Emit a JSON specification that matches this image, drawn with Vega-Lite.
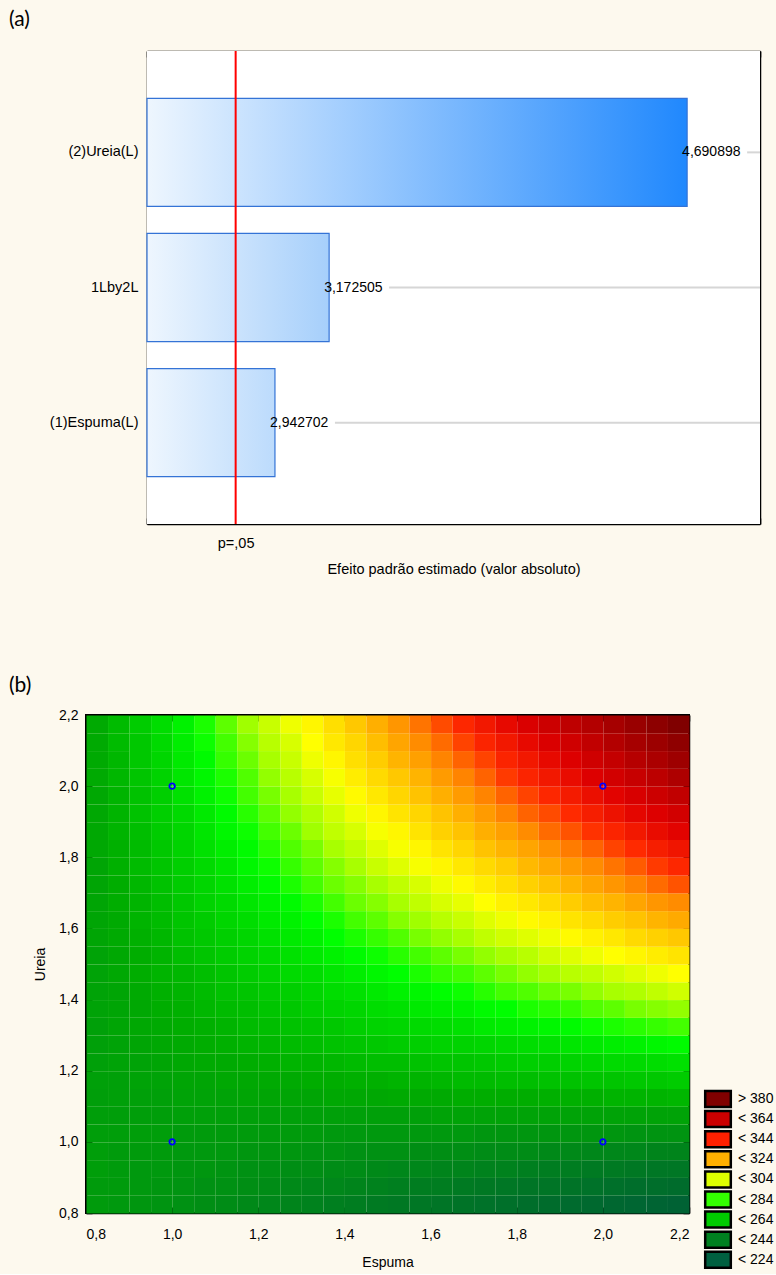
{
"$schema": "https://vega.github.io/schema/vega-lite/v6.json",
"background": "#fdf9ee",
"padding": {"left": 8, "top": 9, "right": 6, "bottom": 0},
"spacing": 98,
"resolve": {"legend": {"fill": "independent"}},
"config": {
 "font": "Liberation Sans",
 "locale": {"number": {"decimal": ",", "thousands": ".", "grouping": [3], "currency": ["", ""]}},
 "view": {"stroke": "#000000", "strokeWidth": 1.5},
 "axis": {"labelFont": "Liberation Sans", "labelFontSize": 14, "labelColor": "#000", "titleFont": "Liberation Sans", "titleFontSize": 14, "titleFontWeight": "normal", "titleColor": "#000", "tickColor": "#000", "tickWidth": 1.5, "tickSize": -6, "domainColor": "#000", "domainWidth": 1.5, "grid": false, "zindex": 1, "labelOverlap": false},
 "title": {"font": "Lato", "fontSize": 21, "fontWeight": "normal", "color": "#000", "anchor": "start", "frame": "group"}
},
"vconcat": [
{
 "width": 674, "height": 473,
 "view": {"stroke": null},
 "title": {"text": "(a)", "dx": -77, "offset": 20},
 "data": {"values": [
  {"f": "(2)Ureia(L)", "t": 4.690898},
  {"f": "1Lby2L", "t": 3.172505},
  {"f": "(1)Espuma(L)", "t": 2.942702}
 ]},
 "resolve": {"axis": {"x": "independent", "y": "independent"}},
 "layer": [
  {
   "mark": {"type": "rect", "fill": "#ffffff"},
   "encoding": {
    "x": {"datum": 2.4, "type": "quantitative", "scale": {"domain": [2.4, 5.0], "range": [61, 674], "nice": false, "zero": false}, "axis": null},
    "x2": {"datum": 5.0}
   }
  },
  {
   "transform": [{"filter": "datum.f == '(2)Ureia(L)'"}],
   "mark": {"type": "bar", "stroke": "#3473d6", "strokeWidth": 1.2, "fill": {"gradient": "linear", "x1": 0, "y1": 0, "x2": 1, "y2": 0, "stops": [{"offset": 0, "color": "#eef6fe"}, {"offset": 1, "color": "#2088fd"}]}},
   "encoding": {
    "x": {"field": "t", "type": "quantitative",
     "axis": {"orient": "bottom", "values": [2.4,2.5,2.6,2.7,2.8,2.9,3.0,3.1,3.2,3.3,3.4,3.5,3.6,3.7,3.8,3.9,4.0,4.1,4.2,4.3,4.4,4.5,4.6,4.7,4.8,4.9,5.0,2.776],
      "labelExpr": "datum.value == 2.776 ? 'p=,05' : ''", "labelPadding": 18, "labelFontSize": 14.5,
      "tickColor": {"condition": {"test": "datum.value == 2.776", "value": "#ff0000"}, "value": "#000000"},
      "title": "Efeito padrão estimado (valor absoluto)", "titlePadding": 13, "titleFontSize": 14.5}},
    "x2": {"datum": 2.4},
    "y": {"field": "f", "type": "nominal", "scale": {"domain": ["(2)Ureia(L)", "1Lby2L", "(1)Espuma(L)"], "paddingInner": 0.2, "paddingOuter": 0.35},
     "axis": {"orient": "left", "offset": -61, "title": null, "labelPadding": 15, "labelFontSize": 14.5}}
   }
  },
  {
   "transform": [{"filter": "datum.f == '1Lby2L'"}],
   "mark": {"type": "bar", "stroke": "#3473d6", "strokeWidth": 1.2, "fill": {"gradient": "linear", "x1": 0, "y1": 0, "x2": 1, "y2": 0, "stops": [{"offset": 0, "color": "#eef6fe"}, {"offset": 1, "color": "#a6cffb"}]}},
   "encoding": {
    "x": {"field": "t", "type": "quantitative", "axis": null},
    "x2": {"datum": 2.4},
    "y": {"field": "f", "type": "nominal", "axis": null}
   }
  },
  {
   "transform": [{"filter": "datum.f == '(1)Espuma(L)'"}],
   "mark": {"type": "bar", "stroke": "#3473d6", "strokeWidth": 1.2, "fill": {"gradient": "linear", "x1": 0, "y1": 0, "x2": 1, "y2": 0, "stops": [{"offset": 0, "color": "#eef6fe"}, {"offset": 1, "color": "#bcdbfc"}]}},
   "encoding": {
    "x": {"field": "t", "type": "quantitative", "axis": null},
    "x2": {"datum": 2.4},
    "y": {"field": "f", "type": "nominal", "axis": null}
   }
  },
  {
   "mark": {"type": "rule", "color": "#d6d6d6", "strokeWidth": 2, "xOffset": 60},
   "encoding": {
    "x": {"field": "t", "type": "quantitative", "axis": null},
    "x2": {"datum": 5.0},
    "y": {"field": "f", "type": "nominal", "axis": {"orient": "right", "labels": false, "title": null}}
   }
  },
  {
   "mark": {"type": "text", "align": "left", "baseline": "middle", "dx": -5, "fontSize": 14, "font": "Liberation Sans", "color": "#000"},
   "encoding": {
    "x": {"field": "t", "type": "quantitative", "axis": null},
    "y": {"field": "f", "type": "nominal", "axis": null},
    "text": {"field": "t", "type": "quantitative", "format": ".6f"}
   }
  },
  {
   "data": {"values": [{"p": 2.776}]},
   "mark": {"type": "rule", "color": "#ff0000", "strokeWidth": 2},
   "encoding": {
    "x": {"field": "p", "type": "quantitative",
     "axis": {"orient": "top", "values": [2.4,2.5,2.6,2.7,2.8,2.9,3.0,3.1,3.2,3.3,3.4,3.5,3.6,3.7,3.8,3.9,4.0,4.1,4.2,4.3,4.4,4.5,4.6,4.7,4.8,4.9,5.0], "labels": false, "title": null}}
   }
  }
 ]
},
{
 "width": 603, "height": 498,
 "view": {"stroke": "#000", "strokeWidth": 2},
 "title": {"text": "(b)", "dx": -77, "offset": 12},
 "resolve": {"axis": {"x": "independent", "y": "independent"}},
 "layer": [
  {
   "data": {"values": [
{"e":0.8,"u":0.8,"z":247},{"e":0.85,"u":0.8,"z":246},{"e":0.9,"u":0.8,"z":245},{"e":0.95,"u":0.8,"z":244},{"e":1,"u":0.8,"z":243},{"e":1.05,"u":0.8,"z":242},{"e":1.1,"u":0.8,"z":241},{"e":1.15,"u":0.8,"z":240},{"e":1.2,"u":0.8,"z":239},{"e":1.25,"u":0.8,"z":238},{"e":1.3,"u":0.8,"z":237},{"e":1.35,"u":0.8,"z":236},{"e":1.4,"u":0.8,"z":235},{"e":1.45,"u":0.8,"z":234},{"e":1.5,"u":0.8,"z":233},{"e":1.55,"u":0.8,"z":232},{"e":1.6,"u":0.8,"z":231},{"e":1.65,"u":0.8,"z":230},{"e":1.7,"u":0.8,"z":229},{"e":1.75,"u":0.8,"z":228},{"e":1.8,"u":0.8,"z":227},{"e":1.85,"u":0.8,"z":226},{"e":1.9,"u":0.8,"z":225},{"e":1.95,"u":0.8,"z":224},{"e":2,"u":0.8,"z":223},{"e":2.05,"u":0.8,"z":222},{"e":2.1,"u":0.8,"z":221},{"e":2.15,"u":0.8,"z":220},
{"e":0.8,"u":0.85,"z":247},{"e":0.85,"u":0.85,"z":247},{"e":0.9,"u":0.85,"z":246},{"e":0.95,"u":0.85,"z":245},{"e":1,"u":0.85,"z":244},{"e":1.05,"u":0.85,"z":243},{"e":1.1,"u":0.85,"z":243},{"e":1.15,"u":0.85,"z":242},{"e":1.2,"u":0.85,"z":241},{"e":1.25,"u":0.85,"z":240},{"e":1.3,"u":0.85,"z":239},{"e":1.35,"u":0.85,"z":239},{"e":1.4,"u":0.85,"z":238},{"e":1.45,"u":0.85,"z":237},{"e":1.5,"u":0.85,"z":236},{"e":1.55,"u":0.85,"z":235},{"e":1.6,"u":0.85,"z":235},{"e":1.65,"u":0.85,"z":234},{"e":1.7,"u":0.85,"z":233},{"e":1.75,"u":0.85,"z":232},{"e":1.8,"u":0.85,"z":231},{"e":1.85,"u":0.85,"z":231},{"e":1.9,"u":0.85,"z":230},{"e":1.95,"u":0.85,"z":229},{"e":2,"u":0.85,"z":228},{"e":2.05,"u":0.85,"z":227},{"e":2.1,"u":0.85,"z":227},{"e":2.15,"u":0.85,"z":226},
{"e":0.8,"u":0.9,"z":248},{"e":0.85,"u":0.9,"z":247},{"e":0.9,"u":0.9,"z":246},{"e":0.95,"u":0.9,"z":246},{"e":1,"u":0.9,"z":245},{"e":1.05,"u":0.9,"z":245},{"e":1.1,"u":0.9,"z":244},{"e":1.15,"u":0.9,"z":243},{"e":1.2,"u":0.9,"z":243},{"e":1.25,"u":0.9,"z":242},{"e":1.3,"u":0.9,"z":242},{"e":1.35,"u":0.9,"z":241},{"e":1.4,"u":0.9,"z":241},{"e":1.45,"u":0.9,"z":240},{"e":1.5,"u":0.9,"z":239},{"e":1.55,"u":0.9,"z":239},{"e":1.6,"u":0.9,"z":238},{"e":1.65,"u":0.9,"z":238},{"e":1.7,"u":0.9,"z":237},{"e":1.75,"u":0.9,"z":237},{"e":1.8,"u":0.9,"z":236},{"e":1.85,"u":0.9,"z":235},{"e":1.9,"u":0.9,"z":235},{"e":1.95,"u":0.9,"z":234},{"e":2,"u":0.9,"z":234},{"e":2.05,"u":0.9,"z":233},{"e":2.1,"u":0.9,"z":232},{"e":2.15,"u":0.9,"z":232},
{"e":0.8,"u":0.95,"z":248},{"e":0.85,"u":0.95,"z":247},{"e":0.9,"u":0.95,"z":247},{"e":0.95,"u":0.95,"z":247},{"e":1,"u":0.95,"z":246},{"e":1.05,"u":0.95,"z":246},{"e":1.1,"u":0.95,"z":246},{"e":1.15,"u":0.95,"z":245},{"e":1.2,"u":0.95,"z":245},{"e":1.25,"u":0.95,"z":245},{"e":1.3,"u":0.95,"z":244},{"e":1.35,"u":0.95,"z":244},{"e":1.4,"u":0.95,"z":243},{"e":1.45,"u":0.95,"z":243},{"e":1.5,"u":0.95,"z":243},{"e":1.55,"u":0.95,"z":242},{"e":1.6,"u":0.95,"z":242},{"e":1.65,"u":0.95,"z":242},{"e":1.7,"u":0.95,"z":241},{"e":1.75,"u":0.95,"z":241},{"e":1.8,"u":0.95,"z":241},{"e":1.85,"u":0.95,"z":240},{"e":1.9,"u":0.95,"z":240},{"e":1.95,"u":0.95,"z":239},{"e":2,"u":0.95,"z":239},{"e":2.05,"u":0.95,"z":239},{"e":2.1,"u":0.95,"z":238},{"e":2.15,"u":0.95,"z":238},
{"e":0.8,"u":1,"z":248},{"e":0.85,"u":1,"z":248},{"e":0.9,"u":1,"z":248},{"e":0.95,"u":1,"z":248},{"e":1,"u":1,"z":247},{"e":1.05,"u":1,"z":247},{"e":1.1,"u":1,"z":247},{"e":1.15,"u":1,"z":247},{"e":1.2,"u":1,"z":247},{"e":1.25,"u":1,"z":247},{"e":1.3,"u":1,"z":247},{"e":1.35,"u":1,"z":246},{"e":1.4,"u":1,"z":246},{"e":1.45,"u":1,"z":246},{"e":1.5,"u":1,"z":246},{"e":1.55,"u":1,"z":246},{"e":1.6,"u":1,"z":246},{"e":1.65,"u":1,"z":246},{"e":1.7,"u":1,"z":245},{"e":1.75,"u":1,"z":245},{"e":1.8,"u":1,"z":245},{"e":1.85,"u":1,"z":245},{"e":1.9,"u":1,"z":245},{"e":1.95,"u":1,"z":245},{"e":2,"u":1,"z":245},{"e":2.05,"u":1,"z":244},{"e":2.1,"u":1,"z":244},{"e":2.15,"u":1,"z":244},
{"e":0.8,"u":1.05,"z":248},{"e":0.85,"u":1.05,"z":248},{"e":0.9,"u":1.05,"z":248},{"e":0.95,"u":1.05,"z":248},{"e":1,"u":1.05,"z":249},{"e":1.05,"u":1.05,"z":249},{"e":1.1,"u":1.05,"z":249},{"e":1.15,"u":1.05,"z":249},{"e":1.2,"u":1.05,"z":249},{"e":1.25,"u":1.05,"z":249},{"e":1.3,"u":1.05,"z":249},{"e":1.35,"u":1.05,"z":249},{"e":1.4,"u":1.05,"z":249},{"e":1.45,"u":1.05,"z":249},{"e":1.5,"u":1.05,"z":249},{"e":1.55,"u":1.05,"z":249},{"e":1.6,"u":1.05,"z":250},{"e":1.65,"u":1.05,"z":250},{"e":1.7,"u":1.05,"z":250},{"e":1.75,"u":1.05,"z":250},{"e":1.8,"u":1.05,"z":250},{"e":1.85,"u":1.05,"z":250},{"e":1.9,"u":1.05,"z":250},{"e":1.95,"u":1.05,"z":250},{"e":2,"u":1.05,"z":250},{"e":2.05,"u":1.05,"z":250},{"e":2.1,"u":1.05,"z":250},{"e":2.15,"u":1.05,"z":250},
{"e":0.8,"u":1.1,"z":248},{"e":0.85,"u":1.1,"z":249},{"e":0.9,"u":1.1,"z":249},{"e":0.95,"u":1.1,"z":249},{"e":1,"u":1.1,"z":250},{"e":1.05,"u":1.1,"z":250},{"e":1.1,"u":1.1,"z":250},{"e":1.15,"u":1.1,"z":251},{"e":1.2,"u":1.1,"z":251},{"e":1.25,"u":1.1,"z":251},{"e":1.3,"u":1.1,"z":251},{"e":1.35,"u":1.1,"z":252},{"e":1.4,"u":1.1,"z":252},{"e":1.45,"u":1.1,"z":252},{"e":1.5,"u":1.1,"z":253},{"e":1.55,"u":1.1,"z":253},{"e":1.6,"u":1.1,"z":253},{"e":1.65,"u":1.1,"z":254},{"e":1.7,"u":1.1,"z":254},{"e":1.75,"u":1.1,"z":254},{"e":1.8,"u":1.1,"z":254},{"e":1.85,"u":1.1,"z":255},{"e":1.9,"u":1.1,"z":255},{"e":1.95,"u":1.1,"z":255},{"e":2,"u":1.1,"z":256},{"e":2.05,"u":1.1,"z":256},{"e":2.1,"u":1.1,"z":256},{"e":2.15,"u":1.1,"z":257},
{"e":0.8,"u":1.15,"z":249},{"e":0.85,"u":1.15,"z":249},{"e":0.9,"u":1.15,"z":250},{"e":0.95,"u":1.15,"z":250},{"e":1,"u":1.15,"z":251},{"e":1.05,"u":1.15,"z":251},{"e":1.1,"u":1.15,"z":252},{"e":1.15,"u":1.15,"z":252},{"e":1.2,"u":1.15,"z":253},{"e":1.25,"u":1.15,"z":253},{"e":1.3,"u":1.15,"z":254},{"e":1.35,"u":1.15,"z":254},{"e":1.4,"u":1.15,"z":255},{"e":1.45,"u":1.15,"z":255},{"e":1.5,"u":1.15,"z":256},{"e":1.55,"u":1.15,"z":256},{"e":1.6,"u":1.15,"z":257},{"e":1.65,"u":1.15,"z":258},{"e":1.7,"u":1.15,"z":258},{"e":1.75,"u":1.15,"z":259},{"e":1.8,"u":1.15,"z":259},{"e":1.85,"u":1.15,"z":260},{"e":1.9,"u":1.15,"z":260},{"e":1.95,"u":1.15,"z":261},{"e":2,"u":1.15,"z":261},{"e":2.05,"u":1.15,"z":262},{"e":2.1,"u":1.15,"z":262},{"e":2.15,"u":1.15,"z":263},
{"e":0.8,"u":1.2,"z":249},{"e":0.85,"u":1.2,"z":250},{"e":0.9,"u":1.2,"z":250},{"e":0.95,"u":1.2,"z":251},{"e":1,"u":1.2,"z":252},{"e":1.05,"u":1.2,"z":253},{"e":1.1,"u":1.2,"z":253},{"e":1.15,"u":1.2,"z":254},{"e":1.2,"u":1.2,"z":255},{"e":1.25,"u":1.2,"z":256},{"e":1.3,"u":1.2,"z":256},{"e":1.35,"u":1.2,"z":257},{"e":1.4,"u":1.2,"z":258},{"e":1.45,"u":1.2,"z":259},{"e":1.5,"u":1.2,"z":259},{"e":1.55,"u":1.2,"z":260},{"e":1.6,"u":1.2,"z":261},{"e":1.65,"u":1.2,"z":261},{"e":1.7,"u":1.2,"z":262},{"e":1.75,"u":1.2,"z":263},{"e":1.8,"u":1.2,"z":264},{"e":1.85,"u":1.2,"z":264},{"e":1.9,"u":1.2,"z":265},{"e":1.95,"u":1.2,"z":266},{"e":2,"u":1.2,"z":267},{"e":2.05,"u":1.2,"z":267},{"e":2.1,"u":1.2,"z":268},{"e":2.15,"u":1.2,"z":269},
{"e":0.8,"u":1.25,"z":249},{"e":0.85,"u":1.25,"z":250},{"e":0.9,"u":1.25,"z":251},{"e":0.95,"u":1.25,"z":252},{"e":1,"u":1.25,"z":253},{"e":1.05,"u":1.25,"z":254},{"e":1.1,"u":1.25,"z":255},{"e":1.15,"u":1.25,"z":256},{"e":1.2,"u":1.25,"z":257},{"e":1.25,"u":1.25,"z":258},{"e":1.3,"u":1.25,"z":259},{"e":1.35,"u":1.25,"z":260},{"e":1.4,"u":1.25,"z":261},{"e":1.45,"u":1.25,"z":262},{"e":1.5,"u":1.25,"z":263},{"e":1.55,"u":1.25,"z":264},{"e":1.6,"u":1.25,"z":265},{"e":1.65,"u":1.25,"z":265},{"e":1.7,"u":1.25,"z":266},{"e":1.75,"u":1.25,"z":267},{"e":1.8,"u":1.25,"z":268},{"e":1.85,"u":1.25,"z":269},{"e":1.9,"u":1.25,"z":270},{"e":1.95,"u":1.25,"z":271},{"e":2,"u":1.25,"z":272},{"e":2.05,"u":1.25,"z":273},{"e":2.1,"u":1.25,"z":274},{"e":2.15,"u":1.25,"z":275},
{"e":0.8,"u":1.3,"z":249},{"e":0.85,"u":1.3,"z":251},{"e":0.9,"u":1.3,"z":252},{"e":0.95,"u":1.3,"z":253},{"e":1,"u":1.3,"z":254},{"e":1.05,"u":1.3,"z":255},{"e":1.1,"u":1.3,"z":256},{"e":1.15,"u":1.3,"z":258},{"e":1.2,"u":1.3,"z":259},{"e":1.25,"u":1.3,"z":260},{"e":1.3,"u":1.3,"z":261},{"e":1.35,"u":1.3,"z":262},{"e":1.4,"u":1.3,"z":264},{"e":1.45,"u":1.3,"z":265},{"e":1.5,"u":1.3,"z":266},{"e":1.55,"u":1.3,"z":267},{"e":1.6,"u":1.3,"z":268},{"e":1.65,"u":1.3,"z":269},{"e":1.7,"u":1.3,"z":271},{"e":1.75,"u":1.3,"z":272},{"e":1.8,"u":1.3,"z":273},{"e":1.85,"u":1.3,"z":274},{"e":1.9,"u":1.3,"z":275},{"e":1.95,"u":1.3,"z":277},{"e":2,"u":1.3,"z":278},{"e":2.05,"u":1.3,"z":279},{"e":2.1,"u":1.3,"z":280},{"e":2.15,"u":1.3,"z":281},
{"e":0.8,"u":1.35,"z":250},{"e":0.85,"u":1.35,"z":251},{"e":0.9,"u":1.35,"z":252},{"e":0.95,"u":1.35,"z":254},{"e":1,"u":1.35,"z":255},{"e":1.05,"u":1.35,"z":257},{"e":1.1,"u":1.35,"z":258},{"e":1.15,"u":1.35,"z":259},{"e":1.2,"u":1.35,"z":261},{"e":1.25,"u":1.35,"z":262},{"e":1.3,"u":1.35,"z":264},{"e":1.35,"u":1.35,"z":265},{"e":1.4,"u":1.35,"z":266},{"e":1.45,"u":1.35,"z":268},{"e":1.5,"u":1.35,"z":269},{"e":1.55,"u":1.35,"z":271},{"e":1.6,"u":1.35,"z":272},{"e":1.65,"u":1.35,"z":273},{"e":1.7,"u":1.35,"z":275},{"e":1.75,"u":1.35,"z":276},{"e":1.8,"u":1.35,"z":278},{"e":1.85,"u":1.35,"z":279},{"e":1.9,"u":1.35,"z":280},{"e":1.95,"u":1.35,"z":282},{"e":2,"u":1.35,"z":283},{"e":2.05,"u":1.35,"z":285},{"e":2.1,"u":1.35,"z":286},{"e":2.15,"u":1.35,"z":287},
{"e":0.8,"u":1.4,"z":250},{"e":0.85,"u":1.4,"z":251},{"e":0.9,"u":1.4,"z":253},{"e":0.95,"u":1.4,"z":255},{"e":1,"u":1.4,"z":256},{"e":1.05,"u":1.4,"z":258},{"e":1.1,"u":1.4,"z":260},{"e":1.15,"u":1.4,"z":261},{"e":1.2,"u":1.4,"z":263},{"e":1.25,"u":1.4,"z":264},{"e":1.3,"u":1.4,"z":266},{"e":1.35,"u":1.4,"z":268},{"e":1.4,"u":1.4,"z":269},{"e":1.45,"u":1.4,"z":271},{"e":1.5,"u":1.4,"z":273},{"e":1.55,"u":1.4,"z":274},{"e":1.6,"u":1.4,"z":276},{"e":1.65,"u":1.4,"z":277},{"e":1.7,"u":1.4,"z":279},{"e":1.75,"u":1.4,"z":281},{"e":1.8,"u":1.4,"z":282},{"e":1.85,"u":1.4,"z":284},{"e":1.9,"u":1.4,"z":285},{"e":1.95,"u":1.4,"z":287},{"e":2,"u":1.4,"z":289},{"e":2.05,"u":1.4,"z":290},{"e":2.1,"u":1.4,"z":292},{"e":2.15,"u":1.4,"z":294},
{"e":0.8,"u":1.45,"z":250},{"e":0.85,"u":1.45,"z":252},{"e":0.9,"u":1.45,"z":254},{"e":0.95,"u":1.45,"z":256},{"e":1,"u":1.45,"z":257},{"e":1.05,"u":1.45,"z":259},{"e":1.1,"u":1.45,"z":261},{"e":1.15,"u":1.45,"z":263},{"e":1.2,"u":1.45,"z":265},{"e":1.25,"u":1.45,"z":267},{"e":1.3,"u":1.45,"z":268},{"e":1.35,"u":1.45,"z":270},{"e":1.4,"u":1.45,"z":272},{"e":1.45,"u":1.45,"z":274},{"e":1.5,"u":1.45,"z":276},{"e":1.55,"u":1.45,"z":278},{"e":1.6,"u":1.45,"z":280},{"e":1.65,"u":1.45,"z":281},{"e":1.7,"u":1.45,"z":283},{"e":1.75,"u":1.45,"z":285},{"e":1.8,"u":1.45,"z":287},{"e":1.85,"u":1.45,"z":289},{"e":1.9,"u":1.45,"z":291},{"e":1.95,"u":1.45,"z":292},{"e":2,"u":1.45,"z":294},{"e":2.05,"u":1.45,"z":296},{"e":2.1,"u":1.45,"z":298},{"e":2.15,"u":1.45,"z":300},
{"e":0.8,"u":1.5,"z":250},{"e":0.85,"u":1.5,"z":252},{"e":0.9,"u":1.5,"z":254},{"e":0.95,"u":1.5,"z":256},{"e":1,"u":1.5,"z":259},{"e":1.05,"u":1.5,"z":261},{"e":1.1,"u":1.5,"z":263},{"e":1.15,"u":1.5,"z":265},{"e":1.2,"u":1.5,"z":267},{"e":1.25,"u":1.5,"z":269},{"e":1.3,"u":1.5,"z":271},{"e":1.35,"u":1.5,"z":273},{"e":1.4,"u":1.5,"z":275},{"e":1.45,"u":1.5,"z":277},{"e":1.5,"u":1.5,"z":279},{"e":1.55,"u":1.5,"z":281},{"e":1.6,"u":1.5,"z":283},{"e":1.65,"u":1.5,"z":285},{"e":1.7,"u":1.5,"z":287},{"e":1.75,"u":1.5,"z":289},{"e":1.8,"u":1.5,"z":291},{"e":1.85,"u":1.5,"z":294},{"e":1.9,"u":1.5,"z":296},{"e":1.95,"u":1.5,"z":298},{"e":2,"u":1.5,"z":300},{"e":2.05,"u":1.5,"z":302},{"e":2.1,"u":1.5,"z":304},{"e":2.15,"u":1.5,"z":306},
{"e":0.8,"u":1.55,"z":251},{"e":0.85,"u":1.55,"z":253},{"e":0.9,"u":1.55,"z":255},{"e":0.95,"u":1.55,"z":257},{"e":1,"u":1.55,"z":260},{"e":1.05,"u":1.55,"z":262},{"e":1.1,"u":1.55,"z":264},{"e":1.15,"u":1.55,"z":266},{"e":1.2,"u":1.55,"z":269},{"e":1.25,"u":1.55,"z":271},{"e":1.3,"u":1.55,"z":273},{"e":1.35,"u":1.55,"z":276},{"e":1.4,"u":1.55,"z":278},{"e":1.45,"u":1.55,"z":280},{"e":1.5,"u":1.55,"z":282},{"e":1.55,"u":1.55,"z":285},{"e":1.6,"u":1.55,"z":287},{"e":1.65,"u":1.55,"z":289},{"e":1.7,"u":1.55,"z":292},{"e":1.75,"u":1.55,"z":294},{"e":1.8,"u":1.55,"z":296},{"e":1.85,"u":1.55,"z":298},{"e":1.9,"u":1.55,"z":301},{"e":1.95,"u":1.55,"z":303},{"e":2,"u":1.55,"z":305},{"e":2.05,"u":1.55,"z":308},{"e":2.1,"u":1.55,"z":310},{"e":2.15,"u":1.55,"z":312},
{"e":0.8,"u":1.6,"z":251},{"e":0.85,"u":1.6,"z":253},{"e":0.9,"u":1.6,"z":256},{"e":0.95,"u":1.6,"z":258},{"e":1,"u":1.6,"z":261},{"e":1.05,"u":1.6,"z":263},{"e":1.1,"u":1.6,"z":266},{"e":1.15,"u":1.6,"z":268},{"e":1.2,"u":1.6,"z":271},{"e":1.25,"u":1.6,"z":273},{"e":1.3,"u":1.6,"z":276},{"e":1.35,"u":1.6,"z":278},{"e":1.4,"u":1.6,"z":281},{"e":1.45,"u":1.6,"z":283},{"e":1.5,"u":1.6,"z":286},{"e":1.55,"u":1.6,"z":288},{"e":1.6,"u":1.6,"z":291},{"e":1.65,"u":1.6,"z":293},{"e":1.7,"u":1.6,"z":296},{"e":1.75,"u":1.6,"z":298},{"e":1.8,"u":1.6,"z":301},{"e":1.85,"u":1.6,"z":303},{"e":1.9,"u":1.6,"z":306},{"e":1.95,"u":1.6,"z":308},{"e":2,"u":1.6,"z":311},{"e":2.05,"u":1.6,"z":313},{"e":2.1,"u":1.6,"z":316},{"e":2.15,"u":1.6,"z":318},
{"e":0.8,"u":1.65,"z":251},{"e":0.85,"u":1.65,"z":254},{"e":0.9,"u":1.65,"z":256},{"e":0.95,"u":1.65,"z":259},{"e":1,"u":1.65,"z":262},{"e":1.05,"u":1.65,"z":265},{"e":1.1,"u":1.65,"z":267},{"e":1.15,"u":1.65,"z":270},{"e":1.2,"u":1.65,"z":273},{"e":1.25,"u":1.65,"z":275},{"e":1.3,"u":1.65,"z":278},{"e":1.35,"u":1.65,"z":281},{"e":1.4,"u":1.65,"z":284},{"e":1.45,"u":1.65,"z":286},{"e":1.5,"u":1.65,"z":289},{"e":1.55,"u":1.65,"z":292},{"e":1.6,"u":1.65,"z":295},{"e":1.65,"u":1.65,"z":297},{"e":1.7,"u":1.65,"z":300},{"e":1.75,"u":1.65,"z":303},{"e":1.8,"u":1.65,"z":305},{"e":1.85,"u":1.65,"z":308},{"e":1.9,"u":1.65,"z":311},{"e":1.95,"u":1.65,"z":314},{"e":2,"u":1.65,"z":316},{"e":2.05,"u":1.65,"z":319},{"e":2.1,"u":1.65,"z":322},{"e":2.15,"u":1.65,"z":324},
{"e":0.8,"u":1.7,"z":251},{"e":0.85,"u":1.7,"z":254},{"e":0.9,"u":1.7,"z":257},{"e":0.95,"u":1.7,"z":260},{"e":1,"u":1.7,"z":263},{"e":1.05,"u":1.7,"z":266},{"e":1.1,"u":1.7,"z":269},{"e":1.15,"u":1.7,"z":272},{"e":1.2,"u":1.7,"z":275},{"e":1.25,"u":1.7,"z":278},{"e":1.3,"u":1.7,"z":281},{"e":1.35,"u":1.7,"z":284},{"e":1.4,"u":1.7,"z":286},{"e":1.45,"u":1.7,"z":289},{"e":1.5,"u":1.7,"z":292},{"e":1.55,"u":1.7,"z":295},{"e":1.6,"u":1.7,"z":298},{"e":1.65,"u":1.7,"z":301},{"e":1.7,"u":1.7,"z":304},{"e":1.75,"u":1.7,"z":307},{"e":1.8,"u":1.7,"z":310},{"e":1.85,"u":1.7,"z":313},{"e":1.9,"u":1.7,"z":316},{"e":1.95,"u":1.7,"z":319},{"e":2,"u":1.7,"z":322},{"e":2.05,"u":1.7,"z":325},{"e":2.1,"u":1.7,"z":328},{"e":2.15,"u":1.7,"z":331},
{"e":0.8,"u":1.75,"z":251},{"e":0.85,"u":1.75,"z":255},{"e":0.9,"u":1.75,"z":258},{"e":0.95,"u":1.75,"z":261},{"e":1,"u":1.75,"z":264},{"e":1.05,"u":1.75,"z":267},{"e":1.1,"u":1.75,"z":270},{"e":1.15,"u":1.75,"z":274},{"e":1.2,"u":1.75,"z":277},{"e":1.25,"u":1.75,"z":280},{"e":1.3,"u":1.75,"z":283},{"e":1.35,"u":1.75,"z":286},{"e":1.4,"u":1.75,"z":289},{"e":1.45,"u":1.75,"z":293},{"e":1.5,"u":1.75,"z":296},{"e":1.55,"u":1.75,"z":299},{"e":1.6,"u":1.75,"z":302},{"e":1.65,"u":1.75,"z":305},{"e":1.7,"u":1.75,"z":308},{"e":1.75,"u":1.75,"z":311},{"e":1.8,"u":1.75,"z":315},{"e":1.85,"u":1.75,"z":318},{"e":1.9,"u":1.75,"z":321},{"e":1.95,"u":1.75,"z":324},{"e":2,"u":1.75,"z":327},{"e":2.05,"u":1.75,"z":330},{"e":2.1,"u":1.75,"z":334},{"e":2.15,"u":1.75,"z":337},
{"e":0.8,"u":1.8,"z":252},{"e":0.85,"u":1.8,"z":255},{"e":0.9,"u":1.8,"z":258},{"e":0.95,"u":1.8,"z":262},{"e":1,"u":1.8,"z":265},{"e":1.05,"u":1.8,"z":269},{"e":1.1,"u":1.8,"z":272},{"e":1.15,"u":1.8,"z":275},{"e":1.2,"u":1.8,"z":279},{"e":1.25,"u":1.8,"z":282},{"e":1.3,"u":1.8,"z":285},{"e":1.35,"u":1.8,"z":289},{"e":1.4,"u":1.8,"z":292},{"e":1.45,"u":1.8,"z":296},{"e":1.5,"u":1.8,"z":299},{"e":1.55,"u":1.8,"z":302},{"e":1.6,"u":1.8,"z":306},{"e":1.65,"u":1.8,"z":309},{"e":1.7,"u":1.8,"z":313},{"e":1.75,"u":1.8,"z":316},{"e":1.8,"u":1.8,"z":319},{"e":1.85,"u":1.8,"z":323},{"e":1.9,"u":1.8,"z":326},{"e":1.95,"u":1.8,"z":329},{"e":2,"u":1.8,"z":333},{"e":2.05,"u":1.8,"z":336},{"e":2.1,"u":1.8,"z":340},{"e":2.15,"u":1.8,"z":343},
{"e":0.8,"u":1.85,"z":252},{"e":0.85,"u":1.85,"z":256},{"e":0.9,"u":1.85,"z":259},{"e":0.95,"u":1.85,"z":263},{"e":1,"u":1.85,"z":266},{"e":1.05,"u":1.85,"z":270},{"e":1.1,"u":1.85,"z":274},{"e":1.15,"u":1.85,"z":277},{"e":1.2,"u":1.85,"z":281},{"e":1.25,"u":1.85,"z":284},{"e":1.3,"u":1.85,"z":288},{"e":1.35,"u":1.85,"z":292},{"e":1.4,"u":1.85,"z":295},{"e":1.45,"u":1.85,"z":299},{"e":1.5,"u":1.85,"z":302},{"e":1.55,"u":1.85,"z":306},{"e":1.6,"u":1.85,"z":310},{"e":1.65,"u":1.85,"z":313},{"e":1.7,"u":1.85,"z":317},{"e":1.75,"u":1.85,"z":320},{"e":1.8,"u":1.85,"z":324},{"e":1.85,"u":1.85,"z":328},{"e":1.9,"u":1.85,"z":331},{"e":1.95,"u":1.85,"z":335},{"e":2,"u":1.85,"z":338},{"e":2.05,"u":1.85,"z":342},{"e":2.1,"u":1.85,"z":346},{"e":2.15,"u":1.85,"z":349},
{"e":0.8,"u":1.9,"z":252},{"e":0.85,"u":1.9,"z":256},{"e":0.9,"u":1.9,"z":260},{"e":0.95,"u":1.9,"z":264},{"e":1,"u":1.9,"z":267},{"e":1.05,"u":1.9,"z":271},{"e":1.1,"u":1.9,"z":275},{"e":1.15,"u":1.9,"z":279},{"e":1.2,"u":1.9,"z":283},{"e":1.25,"u":1.9,"z":287},{"e":1.3,"u":1.9,"z":290},{"e":1.35,"u":1.9,"z":294},{"e":1.4,"u":1.9,"z":298},{"e":1.45,"u":1.9,"z":302},{"e":1.5,"u":1.9,"z":306},{"e":1.55,"u":1.9,"z":309},{"e":1.6,"u":1.9,"z":313},{"e":1.65,"u":1.9,"z":317},{"e":1.7,"u":1.9,"z":321},{"e":1.75,"u":1.9,"z":325},{"e":1.8,"u":1.9,"z":329},{"e":1.85,"u":1.9,"z":332},{"e":1.9,"u":1.9,"z":336},{"e":1.95,"u":1.9,"z":340},{"e":2,"u":1.9,"z":344},{"e":2.05,"u":1.9,"z":348},{"e":2.1,"u":1.9,"z":351},{"e":2.15,"u":1.9,"z":355},
{"e":0.8,"u":1.95,"z":252},{"e":0.85,"u":1.95,"z":256},{"e":0.9,"u":1.95,"z":260},{"e":0.95,"u":1.95,"z":264},{"e":1,"u":1.95,"z":269},{"e":1.05,"u":1.95,"z":273},{"e":1.1,"u":1.95,"z":277},{"e":1.15,"u":1.95,"z":281},{"e":1.2,"u":1.95,"z":285},{"e":1.25,"u":1.95,"z":289},{"e":1.3,"u":1.95,"z":293},{"e":1.35,"u":1.95,"z":297},{"e":1.4,"u":1.95,"z":301},{"e":1.45,"u":1.95,"z":305},{"e":1.5,"u":1.95,"z":309},{"e":1.55,"u":1.95,"z":313},{"e":1.6,"u":1.95,"z":317},{"e":1.65,"u":1.95,"z":321},{"e":1.7,"u":1.95,"z":325},{"e":1.75,"u":1.95,"z":329},{"e":1.8,"u":1.95,"z":333},{"e":1.85,"u":1.95,"z":337},{"e":1.9,"u":1.95,"z":341},{"e":1.95,"u":1.95,"z":345},{"e":2,"u":1.95,"z":349},{"e":2.05,"u":1.95,"z":353},{"e":2.1,"u":1.95,"z":357},{"e":2.15,"u":1.95,"z":361},
{"e":0.8,"u":2,"z":253},{"e":0.85,"u":2,"z":257},{"e":0.9,"u":2,"z":261},{"e":0.95,"u":2,"z":265},{"e":1,"u":2,"z":270},{"e":1.05,"u":2,"z":274},{"e":1.1,"u":2,"z":278},{"e":1.15,"u":2,"z":282},{"e":1.2,"u":2,"z":287},{"e":1.25,"u":2,"z":291},{"e":1.3,"u":2,"z":295},{"e":1.35,"u":2,"z":299},{"e":1.4,"u":2,"z":304},{"e":1.45,"u":2,"z":308},{"e":1.5,"u":2,"z":312},{"e":1.55,"u":2,"z":316},{"e":1.6,"u":2,"z":321},{"e":1.65,"u":2,"z":325},{"e":1.7,"u":2,"z":329},{"e":1.75,"u":2,"z":334},{"e":1.8,"u":2,"z":338},{"e":1.85,"u":2,"z":342},{"e":1.9,"u":2,"z":346},{"e":1.95,"u":2,"z":351},{"e":2,"u":2,"z":355},{"e":2.05,"u":2,"z":359},{"e":2.1,"u":2,"z":363},{"e":2.15,"u":2,"z":368},
{"e":0.8,"u":2.05,"z":253},{"e":0.85,"u":2.05,"z":257},{"e":0.9,"u":2.05,"z":262},{"e":0.95,"u":2.05,"z":266},{"e":1,"u":2.05,"z":271},{"e":1.05,"u":2.05,"z":275},{"e":1.1,"u":2.05,"z":280},{"e":1.15,"u":2.05,"z":284},{"e":1.2,"u":2.05,"z":289},{"e":1.25,"u":2.05,"z":293},{"e":1.3,"u":2.05,"z":298},{"e":1.35,"u":2.05,"z":302},{"e":1.4,"u":2.05,"z":307},{"e":1.45,"u":2.05,"z":311},{"e":1.5,"u":2.05,"z":316},{"e":1.55,"u":2.05,"z":320},{"e":1.6,"u":2.05,"z":325},{"e":1.65,"u":2.05,"z":329},{"e":1.7,"u":2.05,"z":333},{"e":1.75,"u":2.05,"z":338},{"e":1.8,"u":2.05,"z":342},{"e":1.85,"u":2.05,"z":347},{"e":1.9,"u":2.05,"z":351},{"e":1.95,"u":2.05,"z":356},{"e":2,"u":2.05,"z":360},{"e":2.05,"u":2.05,"z":365},{"e":2.1,"u":2.05,"z":369},{"e":2.15,"u":2.05,"z":374},
{"e":0.8,"u":2.1,"z":253},{"e":0.85,"u":2.1,"z":258},{"e":0.9,"u":2.1,"z":262},{"e":0.95,"u":2.1,"z":267},{"e":1,"u":2.1,"z":272},{"e":1.05,"u":2.1,"z":277},{"e":1.1,"u":2.1,"z":281},{"e":1.15,"u":2.1,"z":286},{"e":1.2,"u":2.1,"z":291},{"e":1.25,"u":2.1,"z":295},{"e":1.3,"u":2.1,"z":300},{"e":1.35,"u":2.1,"z":305},{"e":1.4,"u":2.1,"z":309},{"e":1.45,"u":2.1,"z":314},{"e":1.5,"u":2.1,"z":319},{"e":1.55,"u":2.1,"z":324},{"e":1.6,"u":2.1,"z":328},{"e":1.65,"u":2.1,"z":333},{"e":1.7,"u":2.1,"z":338},{"e":1.75,"u":2.1,"z":342},{"e":1.8,"u":2.1,"z":347},{"e":1.85,"u":2.1,"z":352},{"e":1.9,"u":2.1,"z":356},{"e":1.95,"u":2.1,"z":361},{"e":2,"u":2.1,"z":366},{"e":2.05,"u":2.1,"z":371},{"e":2.1,"u":2.1,"z":375},{"e":2.15,"u":2.1,"z":380},
{"e":0.8,"u":2.15,"z":253},{"e":0.85,"u":2.15,"z":258},{"e":0.9,"u":2.15,"z":263},{"e":0.95,"u":2.15,"z":268},{"e":1,"u":2.15,"z":273},{"e":1.05,"u":2.15,"z":278},{"e":1.1,"u":2.15,"z":283},{"e":1.15,"u":2.15,"z":288},{"e":1.2,"u":2.15,"z":293},{"e":1.25,"u":2.15,"z":298},{"e":1.3,"u":2.15,"z":302},{"e":1.35,"u":2.15,"z":307},{"e":1.4,"u":2.15,"z":312},{"e":1.45,"u":2.15,"z":317},{"e":1.5,"u":2.15,"z":322},{"e":1.55,"u":2.15,"z":327},{"e":1.6,"u":2.15,"z":332},{"e":1.65,"u":2.15,"z":337},{"e":1.7,"u":2.15,"z":342},{"e":1.75,"u":2.15,"z":347},{"e":1.8,"u":2.15,"z":352},{"e":1.85,"u":2.15,"z":357},{"e":1.9,"u":2.15,"z":362},{"e":1.95,"u":2.15,"z":366},{"e":2,"u":2.15,"z":371},{"e":2.05,"u":2.15,"z":376},{"e":2.1,"u":2.15,"z":381},{"e":2.15,"u":2.15,"z":386}
   ]},
   "mark": {"type": "rect"},
   "encoding": {
    "x": {"field": "e", "type": "quantitative", "bin": {"binned": true, "step": 0.05}, "scale": {"domain": [0.8, 2.2], "nice": false, "zero": false},
     "axis": {"orient": "bottom", "values": [0.8, 1.0, 1.2, 1.4, 1.6, 1.8, 2.0, 2.2], "labelExpr": "replace(format(datum.value, '.1f'), '.', ',')", "labelPadding": 20, "title": "Espuma", "titlePadding": 14}},
    "y": {"field": "u", "type": "quantitative", "bin": {"binned": true, "step": 0.05}, "scale": {"domain": [0.8, 2.2], "nice": false, "zero": false},
     "axis": {"orient": "left", "values": [0.8, 1.0, 1.2, 1.4, 1.6, 1.8, 2.0, 2.2], "labelExpr": "replace(format(datum.value, '.1f'), '.', ',')", "labelPadding": 14, "title": "Ureia", "titlePadding": 11}},
    "color": {"field": "z", "type": "quantitative", "legend": null,
     "scale": {"type": "linear", "interpolate": "rgb",
      "domain": [214, 234, 254, 268, 276, 288, 300, 312, 324, 336, 350, 370, 395],
      "range": ["#00583c", "#007a22", "#00ad00", "#00dd00", "#00ff00", "#a0ff00", "#ffff00", "#ffc800", "#ff8c00", "#ff2a00", "#e00000", "#a80000", "#6a0000"]}}
   }
  },
  {
   "data": {"values": [{"e": 1, "u": 1}, {"e": 2, "u": 1}, {"e": 1, "u": 2}, {"e": 2, "u": 2}]},
   "mark": {"type": "point", "shape": "circle", "filled": false, "color": "#0000ff", "size": 30, "strokeWidth": 1.8, "opacity": 1},
   "encoding": {
    "x": {"field": "e", "type": "quantitative", "axis": {"orient": "top", "values": [0.8, 1.0, 1.2, 1.4, 1.6, 1.8, 2.0, 2.2], "labels": false, "title": null}},
    "y": {"field": "u", "type": "quantitative", "axis": {"orient": "right", "values": [0.8, 1.0, 1.2, 1.4, 1.6, 1.8, 2.0, 2.2], "labels": false, "title": null}}
   }
  },
  {
   "data": {"values": [{"k": "> 380"}, {"k": "< 364"}, {"k": "< 344"}, {"k": "< 324"}, {"k": "< 304"}, {"k": "< 284"}, {"k": "< 264"}, {"k": "< 244"}, {"k": "< 224"}]},
   "mark": {"type": "rect"},
   "encoding": {
    "x": {"datum": 0.8, "type": "quantitative", "axis": null},
    "x2": {"datum": 0.8},
    "y": {"datum": 0.8, "type": "quantitative", "axis": null},
    "y2": {"datum": 0.8},
    "fill": {"field": "k", "type": "nominal",
     "scale": {"domain": ["> 380", "< 364", "< 344", "< 324", "< 304", "< 284", "< 264", "< 244", "< 224"],
      "range": ["#800000", "#cc0000", "#ff2000", "#ffb000", "#ddff00", "#33ff00", "#00cc00", "#008020", "#006040"]},
     "legend": {"title": null, "orient": "none", "legendX": 625, "legendY": 377, "direction": "vertical", "padding": 0,
      "symbolType": "M-3.2,-2H3.2V2H-3.2Z", "symbolSize": 64, "symbolStrokeColor": "#000000", "symbolStrokeWidth": 2.5, "symbolOpacity": 1,
      "labelFont": "Liberation Sans", "labelFontSize": 14, "labelColor": "#000000", "labelOffset": 13, "rowPadding": -5.9}}
   }
  }
 ]
}
]
}
